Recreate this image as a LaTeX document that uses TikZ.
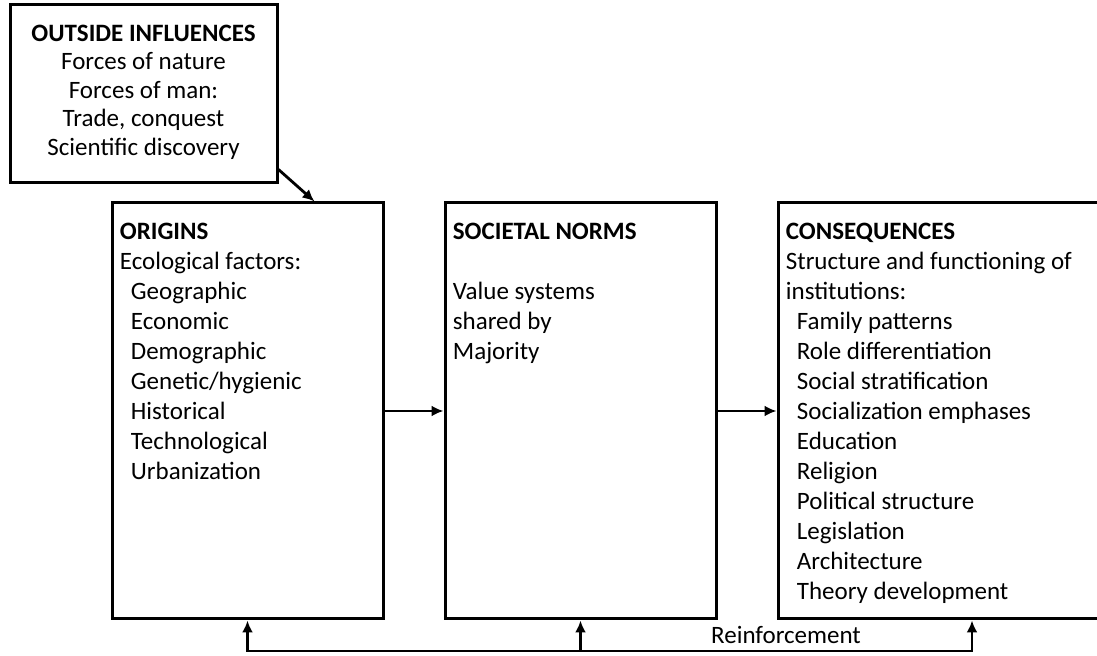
\documentclass[tikz,border=0pt]{standalone}
\usepackage{fontspec}
\setmainfont{Carlito}
\usetikzlibrary{positioning,arrows.meta,calc}
\newcommand{\ind}{\hspace*{5.5pt}}
\tikzset{
    panel/.style={
        draw=black, line width=1.5pt, fill=white, inner sep=0pt
    },
    influencebox/.style={
        panel, minimum width=133.5pt, minimum height=89pt
    },
    stagebox/.style={
        panel, minimum width=135.5pt, minimum height=208pt
    },
    widestagebox/.style={
        panel, minimum width=166.5pt, minimum height=208pt
    },
    boxtext/.style={
        inner sep=0pt, align=left, font=\fontsize{12.5}{15}\selectfont
    },
    arrow/.style={-{Latex[length=6pt,width=5.5pt]}, line width=1.4pt, color=black},
}

\begin{document}
\begin{tikzpicture}[
        x=0.5pt, y=-0.5pt,
        node distance=29.5pt,
        every node/.style={font=\fontsize{12.5}{15}\selectfont},
    ]
    \path[use as bounding box] (0,0) rectangle (1097,656);
    \clip (0,0) rectangle (1097,656);
    % the three stages
    \node[stagebox] (origins) at (247.5,411) {};
    \node[stagebox, right=of origins] (norms) {};
    \node[widestagebox, right=of norms] (conseq) {};
    \node[influencebox] (outside) at (143.5,94) {};

    \node[boxtext, below right=10.75pt and 4.5pt of origins.north west] (origtext)
        {\textbf{ORIGINS}\\Ecological factors:\\\ind Geographic\\\ind Economic\\\ind Demographic\\\ind Genetic/hygienic\\\ind Historical\\\ind Technological\\\ind Urbanization};
    \node[boxtext, below right=10.75pt and 4.5pt of norms.north west] (normtext)
        {\textbf{SOCIETAL NORMS}\\[15pt]Value systems\\shared by\\Majority};
    \node[boxtext, below right=10.75pt and 4.5pt of conseq.north west] (constext)
        {\textbf{CONSEQUENCES}\\Structure and functioning of\\institutions:\\\ind Family patterns\\\ind Role differentiation\\\ind Social stratification\\\ind Socialization emphases\\\ind Education\\\ind Religion\\\ind Political structure\\\ind Legislation\\\ind Architecture\\\ind Theory development};
    \node[boxtext, align=center, font=\fontsize{12.5}{14.25}\selectfont, below=10.5pt of outside.north] (outtext)
        {\textbf{OUTSIDE INFLUENCES}\\Forces of nature\\Forces of man:\\Trade, conquest\\Scientific discovery};

    \draw[arrow] ($(outside.south east)+(0,-15)$) -- ($(origins.north)+(67,0)$);
    \draw[arrow] (origins) -- (norms);
    \draw[arrow] (norms) -- (conseq);

    % feedback loop along the bottom
    \coordinate (loopend) at (972,651);
    \node[anchor=base] (reinf) at (786,644) {Reinforcement};
    \draw[arrow] (norms.south |- loopend) -- (origins.south |- loopend) -- (origins.south);
    \draw[arrow] (norms.south |- loopend) -- (loopend) -- (loopend |- conseq.south);
    \draw[arrow] (norms.south |- loopend) -- (norms.south);
\end{tikzpicture}
\end{document}
